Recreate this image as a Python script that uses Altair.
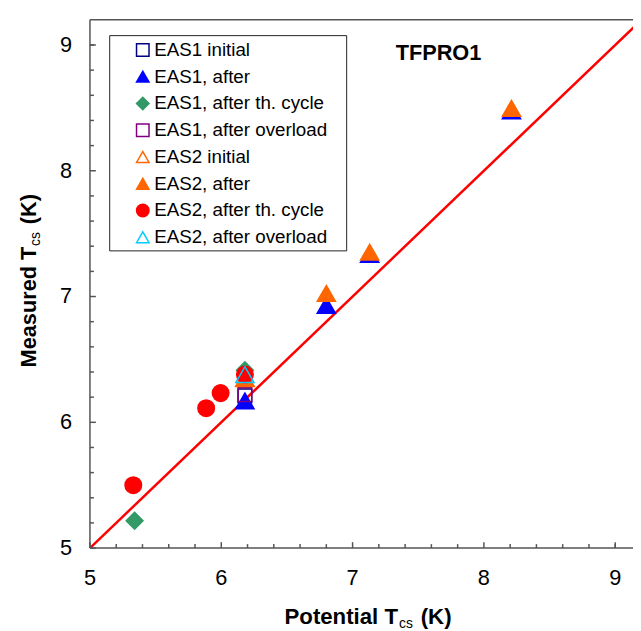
import altair as alt
import pandas as pd

# ---------------- data ----------------
series_names = ["EAS1 initial", "EAS1, after", "EAS1, after th. cycle", "EAS1, after overload",
                "EAS2 initial", "EAS2, after", "EAS2, after th. cycle", "EAS2, after overload"]
series_stroke = ["#000080", "#0000FF", "#339966", "#800080", "#FF6600", "#FF6600", "#FF0000", "#00CCFF"]
series_fill = ["transparent", "#0000FF", "#339966", "transparent", "transparent", "#FF6600", "#FF0000", "transparent"]
series_shape = ["square", "triangle-up", "diamond", "square", "triangle-up", "triangle-up", "circle", "triangle-up"]
series_size = [190, 340, 290, 190, 340, 340, 280, 340]

eas1_initial_x = [6.18]
eas1_initial_y = [6.21]
eas1_after_x = [6.18, 6.80, 7.13, 8.21]
eas1_after_y = [6.17, 6.93, 7.335, 8.477]
eas1_cycle_x = [5.34, 6.18]
eas1_cycle_y = [5.217, 6.414]
eas1_overload_x = [6.18]
eas1_overload_y = [6.22]
eas2_initial_x = [6.18]
eas2_initial_y = [6.35]
eas2_after_x = [6.18, 6.80, 7.13, 8.21]
eas2_after_y = [6.348, 7.025, 7.353, 8.497]
eas2_cycle_x = [5.33, 5.885, 5.995, 6.18]
eas2_cycle_y = [5.50, 6.112, 6.232, 6.38]
eas2_overload_x = [6.18]
eas2_overload_y = [6.379]

line_x = [5.0, 9.2]
line_y = [5.0, 9.2]

x_major_ticks = [5, 6, 7, 8, 9]
x_tick_labels = ["5", "6", "7", "8", "9"]
x_minor_ticks = [5.2, 5.4, 5.6, 5.8, 6.2, 6.4, 6.6, 6.8, 7.2, 7.4, 7.6, 7.8,
                 8.2, 8.4, 8.6, 8.8, 9.0]
y_major_ticks = [5, 6, 7, 8, 9]
y_tick_labels = ["5", "6", "7", "8", "9"]
y_minor_ticks = [5.2, 5.4, 5.6, 5.8, 6.2, 6.4, 6.6, 6.8, 7.2, 7.4, 7.6, 7.8,
                 8.2, 8.4, 8.6, 8.8, 9.0]

annotation = "TFPRO1"
x_title_main, x_title_sub, x_title_tail = "Potential T", "cs", "(K)"
y_title_main, y_title_sub, y_title_tail = "Measured T", "cs", "(K)"

# ---------------- layout ----------------
W, H = 550, 535
X_DOMAIN = [5, 5 + W / 133.0]
Y_DOMAIN = [5, 9.2]
FONT = "Liberation Sans"
AXIS_COLOR = "#555555"

series_xy = [
    (eas1_initial_x, eas1_initial_y), (eas1_after_x, eas1_after_y),
    (eas1_cycle_x, eas1_cycle_y), (eas1_overload_x, eas1_overload_y),
    (eas2_initial_x, eas2_initial_y), (eas2_after_x, eas2_after_y),
    (eas2_cycle_x, eas2_cycle_y), (eas2_overload_x, eas2_overload_y),
]
rows = []
for name, size, (xv_list, yv_list) in zip(series_names, series_size, series_xy):
    for xv, yv in zip(xv_list, yv_list):
        rows.append({"series": name, "x": xv, "y": yv, "sz": size})
points_df = pd.DataFrame(rows)

xs = alt.Scale(domain=X_DOMAIN, nice=False, zero=False)
ys = alt.Scale(domain=Y_DOMAIN, nice=False, zero=False)

leg = alt.Legend(title=None, labelLimit=400)

points = alt.Chart(points_df).mark_point(filled=False, opacity=1, strokeWidth=1.5).encode(
    x=alt.X("x:Q", scale=xs, axis=None),
    y=alt.Y("y:Q", scale=ys, axis=None),
    stroke=alt.Stroke("series:N", scale=alt.Scale(domain=series_names, range=series_stroke), legend=leg),
    fill=alt.Fill("series:N", scale=alt.Scale(domain=series_names, range=series_fill), legend=leg),
    shape=alt.Shape("series:N", scale=alt.Scale(domain=series_names, range=series_shape), legend=leg),
    size=alt.Size("sz:Q", scale=None),
)

line = alt.Chart(pd.DataFrame({"lx": line_x, "ly": line_y})).mark_line(
    color="#FF0000", strokeWidth=2.5, clip=True).encode(
    x=alt.X("lx:Q", scale=xs, axis=None), y=alt.Y("ly:Q", scale=ys, axis=None))

# axis drawn by hand: frame lines, inward ticks and tick labels placed through the scales
one = pd.DataFrame({"a": [0]})

def frame_rule(**enc):
    return alt.Chart(one).mark_rule(color=AXIS_COLOR, strokeWidth=1.5).encode(**enc)

left_line = frame_rule(x=alt.value(0), y=alt.value(0), y2=alt.value(H))
bottom_line = frame_rule(x=alt.value(0), x2=alt.value(W), y=alt.value(H))
top_line = frame_rule(x=alt.value(0), x2=alt.value(W), y=alt.value(0))

def xticks(vals, length):
    return alt.Chart(pd.DataFrame({"tx": vals})).mark_tick(
        color=AXIS_COLOR, thickness=1.5, size=length, orient="vertical", opacity=1,
        yOffset=-length / 2).encode(
        x=alt.X("tx:Q", scale=xs, axis=None), y=alt.value(H))

def yticks(vals, length):
    return alt.Chart(pd.DataFrame({"ty": vals})).mark_tick(
        color=AXIS_COLOR, thickness=1.5, size=length, orient="horizontal", opacity=1,
        xOffset=length / 2).encode(
        y=alt.Y("ty:Q", scale=ys, axis=None), x=alt.value(0))

x_labels = alt.Chart(pd.DataFrame({"lv": x_major_ticks, "lt": x_tick_labels})).mark_text(
    font=FONT, fontSize=22, color="black", align="center", baseline="top").encode(
    x=alt.X("lv:Q", scale=xs, axis=None), y=alt.value(H + 20), text="lt:N")

y_labels = alt.Chart(pd.DataFrame({"lv": y_major_ticks, "lt": y_tick_labels})).mark_text(
    font=FONT, fontSize=22, color="black", align="right", baseline="middle").encode(
    y=alt.Y("lv:Q", scale=ys, axis=None), x=alt.value(-18), text="lt:N")

# legend frame (the legend itself is drawn by Vega-Lite inside it)
legend_frame = alt.Chart(one).mark_rect(fill="white", stroke="#222222", strokeWidth=1).encode(
    x=alt.value(20), x2=alt.value(260), y=alt.value(16), y2=alt.value(234))

def label(text, x, y, size, weight="bold", align="left", angle=0, baseline="alphabetic"):
    return alt.Chart(one).mark_text(text=text, font=FONT, fontSize=size, fontWeight=weight,
                                    align=align, baseline=baseline, angle=angle, color="black").encode(
        x=alt.value(x), y=alt.value(y))

tfpro = label(annotation, 353, 34, 22, align="center", baseline="middle")

# x title pieces (centered on plot)
xt_y = 612
xt1 = label(x_title_main, 312, xt_y, 22.5, align="right")
xt2 = label(x_title_sub, 313, xt_y + 4, 14, weight="normal")
xt3 = label(x_title_tail, 335, xt_y, 22.5)

# y title pieces (rotated, reading upward)
yt_x = -55
yt1 = label(y_title_main, yt_x, 352, 22, angle=270)
yt2 = label(y_title_sub, yt_x + 4, 229, 14, weight="normal", angle=270)
yt3 = label(y_title_tail, yt_x, 207, 22, angle=270)

chart = alt.layer(
    legend_frame,
    line,
    left_line, bottom_line, top_line,
    xticks(x_major_ticks, 6), xticks(x_minor_ticks, 4),
    yticks(y_major_ticks, 6), yticks(y_minor_ticks, 4),
    x_labels, y_labels,
    points,
    tfpro, xt1, xt2, xt3, yt1, yt2, yt3,
).properties(
    width=W, height=H,
    autosize=alt.AutoSizeParams(type="none"),
    padding={"left": 83, "top": 8, "right": 0, "bottom": 80},
).configure_view(strokeWidth=0).configure_legend(
    orient="none", legendX=20, legendY=16, padding=5, strokeColor="transparent",
    fillColor="transparent", labelFont=FONT, labelFontSize=19, labelColor="black", symbolSize=160,
    symbolStrokeWidth=1.5, rowPadding=7.1, symbolOffset=19, labelOffset=2,
)

chart.save("out.html", embed_options={"renderer": "svg", "actions": False})
